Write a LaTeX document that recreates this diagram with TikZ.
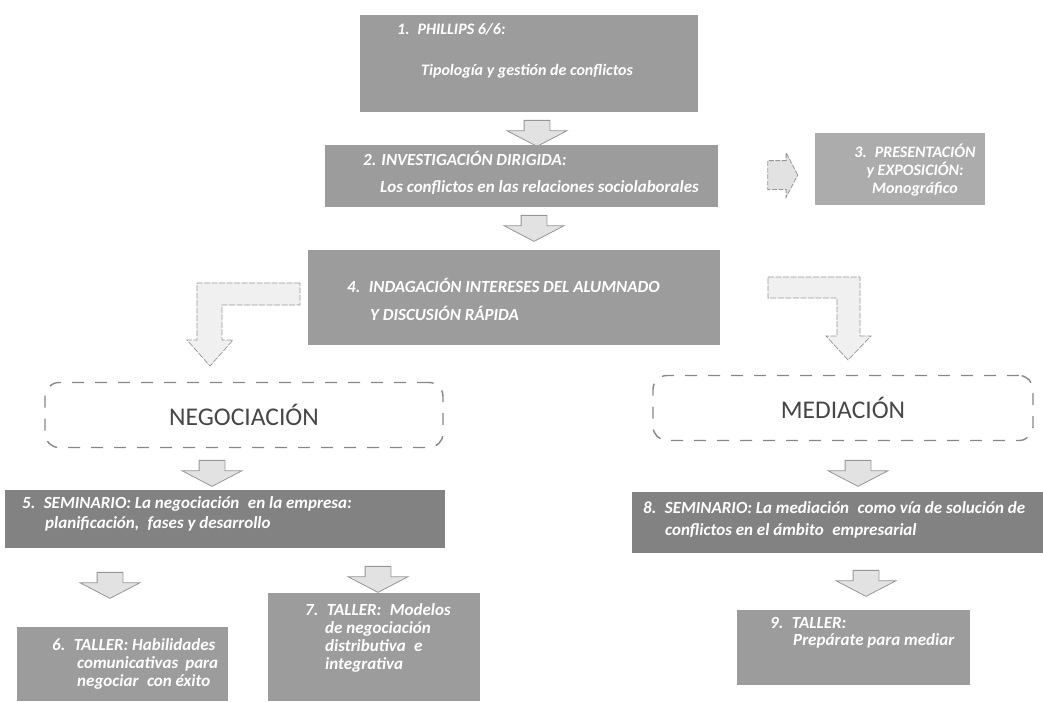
\documentclass[tikz,border=0pt]{standalone}
\usepackage{fontspec}
\setmainfont{Carlito}
\usetikzlibrary{shapes.arrows,positioning,calc}
\definecolor{boxgray}{RGB}{156,156,156}
\definecolor{darkboxgray}{RGB}{130,130,130}
\definecolor{lightboxgray}{RGB}{172,172,172}
\definecolor{arrowfill}{RGB}{226,226,226}
\definecolor{arrowline}{RGB}{150,150,150}
\definecolor{dashgray}{RGB}{135,135,135}
\definecolor{labelgray}{RGB}{70,70,70}
\tikzset{
  taskbox/.style={fill=boxgray,inner sep=0pt,anchor=north west},
  boxtext/.style={text=white,inner sep=0pt,anchor=base west,align=flush left,
    font=\fontsize{17}{18}\selectfont\bfseries\itshape},
  downarrow/.style={single arrow,draw=arrowline,fill=arrowfill,line width=0.8pt,
    inner sep=0pt,text height=12.5pt,text depth=12.5pt,
    single arrow head extend=17pt,single arrow tip angle=125,
    minimum height=26pt,rotate=-90},
  bentarrow/.style={draw=arrowline,fill=arrowfill!50!white,line width=0.7pt,
    dash pattern=on 6pt off 1.5pt,line join=miter},
  groupbox/.style={draw=dashgray,dash pattern=on 12pt off 11pt,line width=1.4pt,
    rounded corners=14pt,text=labelgray,font=\fontsize{25.5}{28}\selectfont}
}
\begin{document}
\begin{tikzpicture}[x=1pt,y=-1pt]
  \useasboundingbox (0,0) rectangle (1043,701);
  % upper chain
  \node[taskbox,minimum width=338pt,minimum height=97pt] (phillips) at (360,15) {};
  \node[boxtext,text width=260pt,font=\fontsize{16}{18}\selectfont\bfseries\itshape] (phillipstext) at (421,35)
    {\hspace*{-24pt}1.\enspace PHILLIPS 6/6:\\[22pt]Tipología y gestión de conflictos};
  \node[downarrow] (arr12) at (537,130) {};
  \node[taskbox,minimum width=393pt,minimum height=62pt] (investigacion) at (325,145) {};
  \node[boxtext,text width=330pt] (investigaciontext) at (380,165)
    {\hspace*{-17pt}2. INVESTIGACIÓN DIRIGIDA:\\[9pt]Los conflictos en las relaciones sociolaborales};
  \node[single arrow,draw=arrowline,fill=arrowfill,line width=0.8pt,dash pattern=on 5pt off 1.5pt,
    inner sep=0pt,text height=14pt,text depth=14pt,single arrow head extend=8pt,
    single arrow tip angle=125,minimum height=30pt] (arr23) at (779,175) {};
  \node[taskbox,fill=lightboxgray,minimum width=170pt,minimum height=72pt] (presentacion) at (815,133) {};
  \node[boxtext,anchor=base,align=flush center,text width=150pt,font=\fontsize{16}{18}\selectfont\bfseries\itshape]
    (presentaciontext) at (915,157) {3.\enspace PRESENTACIÓN\\y EXPOSICIÓN:\\Monográfico};
  \node[downarrow] (arr24) at (534,225) {};
  \node[taskbox,minimum width=412pt,minimum height=95pt] (indagacion) at (308,250) {};
  \node[boxtext,text width=330pt] (indagaciontext) at (370,292)
    {\hspace*{-23pt}4.\enspace INDAGACIÓN INTERESES DEL ALUMNADO\\[10pt]Y DISCUSIÓN RÁPIDA};
  % bent arrows towards the two branches
  \draw[bentarrow] (300,283) -- (197,283) -- (197,340) -- (187,340) -- (210,366)
    -- (233,340) -- (222,340) -- (222,305) -- (300,305) -- cycle;
  \draw[bentarrow] (768,277) -- (860,277) -- (860,336) -- (871,336) -- (848,360)
    -- (826,336) -- (837,336) -- (837,298) -- (768,298) -- cycle;
  % branches
  \node[groupbox,minimum width=398pt,minimum height=65pt] (negociacion) at (244,415) {NEGOCIACIÓN};
  \node[groupbox,minimum width=380pt,minimum height=65pt] (mediacion) at (843,408) {MEDIACIÓN};
  \node[downarrow] (arrneg) at (212,470) {};
  \node[downarrow] (arrmed) at (858,470) {};
  % negotiation
  \node[taskbox,fill=darkboxgray,minimum width=440pt,minimum height=58pt] (seminarioneg) at (5,490) {};
  \node[boxtext,text width=390pt] (seminarionegtext) at (45,508)
    {\hspace*{-23pt}5.\enspace SEMINARIO: La negociación\enspace en la empresa:\\[2pt]planificación,\enspace fases y desarrollo};
  \node[downarrow] (arr56) at (110,582) {};
  \node[downarrow] (arr57) at (378,576) {};
  \node[taskbox,minimum width=211pt,minimum height=74pt] (tallerhab) at (17,627) {};
  \node[boxtext,text width=141pt] (tallerhabtext) at (77,650)
    {\hspace*{-25pt}6.\enspace TALLER: Habilidades\\comunicativas\hfill para\\negociar\enspace con éxito};
  \node[taskbox,minimum width=212pt,minimum height=108pt] (tallermod) at (268,593) {};
  \node[boxtext,text width=150pt] (tallermodtext) at (325,615)
    {\hspace*{-20pt}7.\enspace TALLER:\enspace Modelos\\de negociación\\distributiva\enspace e\\integrativa};
  % mediation
  \node[taskbox,fill=darkboxgray,minimum width=411pt,minimum height=61pt] (seminariomed) at (632,492) {};
  \node[boxtext,text width=378pt] (seminariomedtext) at (665,513)
    {\hspace*{-22pt}8.\enspace SEMINARIO: La mediación\enspace como vía de solución de\\[4pt]conflictos en el ámbito\enspace empresarial};
  \node[downarrow] (arr89) at (866,580) {};
  \node[taskbox,minimum width=233pt,minimum height=75pt] (tallermed) at (737,610) {};
  \node[boxtext,text width=170pt,font=\fontsize{17}{17}\selectfont\bfseries\itshape] (tallermedtext) at (793,628)
    {\hspace*{-23pt}9.\enspace TALLER:\\Prepárate para mediar};
\end{tikzpicture}
\end{document}
